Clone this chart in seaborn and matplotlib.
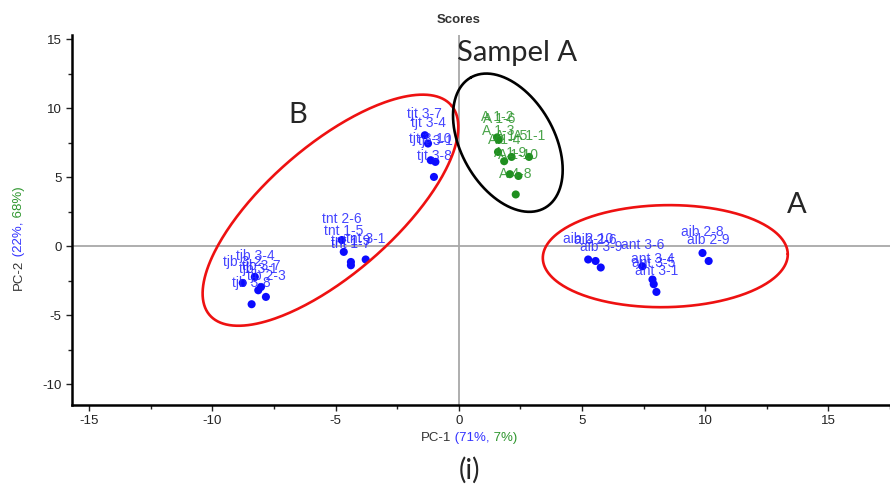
import numpy as np
import pandas as pd
import matplotlib.pyplot as plt
import seaborn as sns
from matplotlib.ticker import MultipleLocator

# score values
blue_labels = ["tjb 3-2", "tjb 3-4", "tjb 3-7", "tjb 3-1", "tjb 2-3", "tjb 3-8",
               "tnt 2-6", "tnt 1-5", "tnt 1-9", "tnt 1-7", "tnt 3-1",
               "tjt 3-7", "tjt 3-4", "tjt 3-10", "tjt 3-1", "tjt 3-8",
               "aib 2-10", "aib 2-6", "aib 3-9", "ant 3-6", "ant 3-4", "ant 3-5", "ant 3-1",
               "aib 2-8", "aib 2-9"]
blue_pc1 = [-8.77, -8.28, -8.03, -8.14, -7.83, -8.41,
            -4.75, -4.67, -4.38, -4.38, -3.78,
            -1.38, -1.25, -1.14, -0.95, -1.01,
            5.25, 5.55, 5.76, 7.45, 7.86, 7.91, 8.02,
            9.89, 10.14]
blue_pc2 = [-2.66, -2.22, -2.95, -3.19, -3.67, -4.20,
            0.45, -0.41, -1.14, -1.38, -0.96,
            8.04, 7.44, 6.23, 6.11, 5.02,
            -0.96, -1.07, -1.54, -1.45, -2.41, -2.75, -3.31,
            -0.49, -1.07]

green_labels = ["A 1-2", "A 1-6", "A 1-3", "A 1-4", "A 1-5", "A 1-1", "A 1-9", "A 1-10", "A 4-8"]
green_pc1 = [1.55, 1.62, 1.59, 1.84, 2.14, 2.85, 2.07, 2.42, 2.31]
green_pc2 = [7.88, 7.70, 6.83, 6.16, 6.47, 6.47, 5.22, 5.09, 3.75]

df = pd.DataFrame({
    "label": blue_labels + green_labels,
    "pc1": blue_pc1 + green_pc1,
    "pc2": blue_pc2 + green_pc2,
    "group": ["blue"] * len(blue_labels) + ["green"] * len(green_labels),
})

sns.set_style("white")
plt.rcParams["font.family"] = ["Liberation Sans", "DejaVu Sans"]
plt.rcParams["axes.unicode_minus"] = False

dot_colors = {"blue": "#0b0bff", "green": "#1f8f1f"}
text_colors = {"blue": "#2525ff", "green": "#2a942a"}

fig = plt.figure(figsize=(8.9, 4.87), dpi=100)
ax = fig.add_axes([0.0809, 0.1684, 0.9191, 0.7597])

xmin, xmax = -15.7, 17.5
ymin, ymax = -11.5, 15.3
ax.set_xlim(xmin, xmax)
ax.set_ylim(ymin, ymax)

ax.axhline(0, color="#a8a8a8", lw=1.3, zorder=0)
ax.axvline(0, color="#a8a8a8", lw=1.3, zorder=0)

sns.scatterplot(data=df, x="pc1", y="pc2", hue="group", palette=dot_colors,
                s=34, edgecolor="none", legend=False, ax=ax, zorder=3)

for _, r in df.iterrows():
    ax.annotate(r["label"], (r["pc1"], r["pc2"]), xytext=(0, 15), textcoords="offset points",
                ha="center", va="center", fontsize=10, color=text_colors[r["group"]],
                alpha=0.85, zorder=4)

# pixel scale of the axes, used to draw the hand-drawn looking ellipses
ax_w = fig.get_figwidth() * fig.dpi * 0.9191
ax_h = fig.get_figheight() * fig.dpi * 0.7597
sx = ax_w / (xmax - xmin)
sy = ax_h / (ymax - ymin)


def ellipse(cx, cy, a, b, angle, color):
    t = np.linspace(0, 2 * np.pi, 300)
    th = np.deg2rad(angle)
    ex = a * np.cos(t) * np.cos(th) - b * np.sin(t) * np.sin(th)
    ey = a * np.cos(t) * np.sin(th) + b * np.sin(t) * np.cos(th)
    ax.plot(cx + ex / sx, cy + ey / sy, color=color, lw=1.9, zorder=5, clip_on=False)


ellipse(-5.21, 2.61, 160, 64, 41, "#ee1111")
ellipse(1.99, 7.5, 75, 46.5, 119.6, "black")
ellipse(8.38, -0.72, 122.5, 51, 1, "#ee1111")

ann_font = ["Lato", "DejaVu Sans"]
ax.text(-6.53, 9.49, "B", fontsize=21, ha="center", va="center", family=ann_font)
ax.text(13.71, 2.97, "A", fontsize=21, ha="center", va="center", family=ann_font)
ax.text(2.35, 14.0, "Sampel A", fontsize=21, ha="center", va="center", family=ann_font,
        clip_on=False)
fig.text(470 / 890, 1 - 470 / 487, "(i)", fontsize=20, ha="center", va="center", family=ann_font)

fig.text(459 / 890, 1 - 20 / 487, "Scores", fontsize=9.5, weight="bold", ha="center",
         va="center", color="#333333")

# ticks and spines
ax.xaxis.set_major_locator(MultipleLocator(5))
ax.xaxis.set_minor_locator(MultipleLocator(2.5))
ax.yaxis.set_major_locator(MultipleLocator(5))
ax.yaxis.set_minor_locator(MultipleLocator(2.5))
ax.tick_params(which="both", direction="out", width=1, colors="#222222", labelsize=9.5)
ax.tick_params(which="major", length=4, bottom=True, left=True)
ax.tick_params(which="minor", length=3, bottom=True, left=True)
ax.set_xticks([-15, -10, -5, 0, 5, 10, 15])
ax.set_yticks([-10, -5, 0, 5, 10, 15])
sns.despine(ax=ax)
for side in ["left", "bottom"]:
    ax.spines[side].set_linewidth(1.8)
    ax.spines[side].set_color("black")
ax.set_xlabel("")
ax.set_ylabel("")

# axis titles with coloured explained-variance parts
lab_kw = dict(fontsize=9.5, annotation_clip=False)
t1 = fig.text(421 / 890, 1 - 438 / 487, "PC-1", fontsize=9.5, color="#333333",
              ha="left", va="center")
t2 = ax.annotate(" (71%,", xy=(1, 0), xycoords=t1, ha="left", va="bottom",
                 color="#3333ff", **lab_kw)
ax.annotate(" 7%)", xy=(1, 0), xycoords=t2, ha="left", va="bottom", color="#2e962e", **lab_kw)

u1 = fig.text(19 / 890, 1 - 290 / 487, "PC-2", fontsize=9.5, color="#333333",
              ha="center", va="bottom", rotation=90)
u2 = ax.annotate(" (22%,", xy=(0.5, 1), xycoords=u1, ha="center", va="bottom",
                 rotation=90, color="#3333ff", **lab_kw)
ax.annotate(" 68%)", xy=(0.5, 1), xycoords=u2, ha="center", va="bottom",
            rotation=90, color="#2e962e", **lab_kw)

plt.savefig("out.png", dpi=100)
